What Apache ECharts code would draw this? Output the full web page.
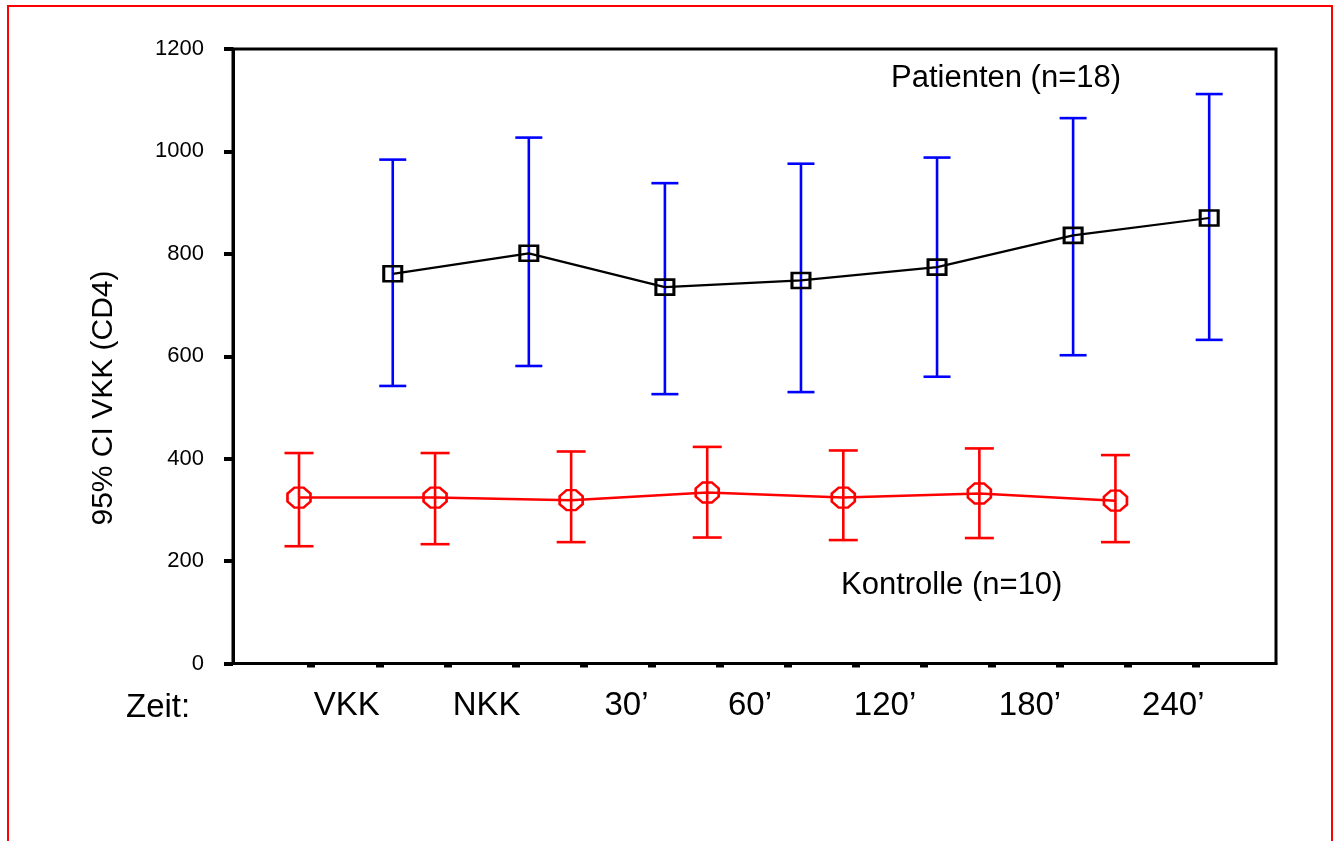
<!DOCTYPE html>
<html>
<head>
<meta charset="utf-8">
<script src="https://cdn.jsdelivr.net/npm/echarts@6/dist/echarts.min.js"></script>
<style>
  html, body { margin: 0; padding: 0; background: #fff; }
  #chart { width: 1338px; height: 841px; }
</style>
</head>
<body>
<div id="chart"></div>
<script>
// Zeitpunkte (Kategorien)
const timeLabels = ['VKK', 'NKK', '30’', '60’', '120’', '180’', '240’']
// Lage der Beschriftungen auf der x-Achse (Achseneinheiten)
const labelPos = [0.351, 1.379, 2.407, 3.314, 4.307, 5.372, 6.425]
const tickPos = [0.09, 0.59, 1.09, 1.59, 2.09, 2.59, 3.09, 3.59, 4.09, 4.59, 5.09, 5.59, 6.09, 6.59]
const yTicks = [0, 200, 400, 600, 800, 1000, 1200]

// Patienten (n=18): Mittelwert und 95%-KI
const patMean = [761, 801, 735, 748, 774, 836, 870]
const patLow = [542, 581, 526, 530, 560, 602, 632]
const patHigh = [984, 1027, 938, 976, 988, 1065, 1112]

// Kontrolle (n=10)
const ctrlMean = [324, 324, 319, 334, 324, 332, 318]
const ctrlLow = [229, 233, 237, 246, 241, 245, 237]
const ctrlHigh = [411, 411, 414, 423, 416, 420, 407]

const ctrlShift = 0
const patShift = 0.689
const font = 'Arial, "Liberation Sans", sans-serif'

const chart = echarts.init(document.getElementById('chart'))

function errorBars(color, capW) {
  return function (params, api) {
    const x = api.value(0)
    const lo = api.coord([x, api.value(1)])
    const hi = api.coord([x, api.value(2)])
    const style = { stroke: color, lineWidth: 2.6 }
    return {
      type: 'group',
      children: [
        { type: 'line', shape: { x1: lo[0], y1: lo[1], x2: hi[0], y2: hi[1] }, style },
        { type: 'line', shape: { x1: lo[0] - capW / 2, y1: lo[1], x2: lo[0] + capW / 2, y2: lo[1] }, style },
        { type: 'line', shape: { x1: hi[0] - capW / 2, y1: hi[1], x2: hi[0] + capW / 2, y2: hi[1] }, style }
      ]
    }
  }
}

const patBars = timeLabels.map((t, i) => [i + patShift, patLow[i], patHigh[i]])
const ctrlBars = timeLabels.map((t, i) => [i + ctrlShift, ctrlLow[i], ctrlHigh[i]])
const patLine = timeLabels.map((t, i) => [i + patShift, patMean[i]])
const ctrlLine = timeLabels.map((t, i) => [i + ctrlShift, ctrlMean[i]])

const option = {
  backgroundColor: '#fff',
  animation: false,
  grid: {
    left: 233,
    top: 49,
    right: 62,
    bottom: 177.5,
    show: true,
    borderColor: '#000',
    borderWidth: 3
  },
  xAxis: {
    type: 'value',
    min: -0.485,
    max: 7.18,
    splitLine: { show: false },
    axisLine: { show: true, onZero: false, lineStyle: { color: '#000', width: 3 } },
    axisTick: {
      show: true,
      length: 4,
      customValues: tickPos,
      lineStyle: { color: '#000', width: 8 }
    },
    axisLabel: {
      customValues: labelPos,
      margin: 26,
      color: '#000',
      fontFamily: font,
      fontSize: 33,
      formatter: v => {
        const i = labelPos.findIndex(p => Math.abs(p - v) < 1e-6)
        return i >= 0 ? timeLabels[i] : ''
      }
    }
  },
  yAxis: {
    type: 'value',
    min: 0,
    max: 1200,
    interval: 200,
    splitLine: { show: false },
    axisLine: { show: true, onZero: false, lineStyle: { color: '#000', width: 3 } },
    axisTick: { show: true, length: 9, lineStyle: { color: '#000', width: 4 } },
    axisLabel: {
      margin: 29,
      color: '#000',
      fontFamily: font,
      fontSize: 22,
      padding: [0, 0, 6, 0],
      formatter: v => (yTicks.includes(v) ? String(v) : '')
    }
  },
  graphic: [
    {
      type: 'rect',
      shape: { x: 8, y: 6, width: 1324, height: 900 },
      style: { fill: 'none', stroke: '#ff0000', lineWidth: 2 },
      silent: true
    },
    {
      type: 'text',
      x: 104,
      y: 398,
      rotation: Math.PI / 2,
      style: {
        text: '95% CI VKK (CD4)',
        font: '30px ' + font,
        fill: '#000',
        align: 'center',
        verticalAlign: 'middle'
      }
    },
    {
      type: 'text',
      x: 891,
      y: 78,
      style: { text: 'Patienten (n=18)', font: '31px ' + font, fill: '#000', verticalAlign: 'middle' }
    },
    {
      type: 'text',
      x: 841,
      y: 585,
      style: { text: 'Kontrolle (n=10)', font: '31px ' + font, fill: '#000', verticalAlign: 'middle' }
    },
    {
      type: 'text',
      x: 126,
      y: 708,
      style: { text: 'Zeit:', font: '33px ' + font, fill: '#000', verticalAlign: 'middle' }
    }
  ],
  series: [
    {
      type: 'custom',
      name: 'Patienten KI',
      renderItem: errorBars('#0000ff', 27),
      encode: { x: 0, y: [1, 2] },
      data: patBars,
      z: 2
    },
    {
      type: 'custom',
      name: 'Kontrolle KI',
      renderItem: errorBars('#ff0000', 29),
      encode: { x: 0, y: [1, 2] },
      data: ctrlBars,
      z: 2
    },
    {
      type: 'line',
      name: 'Patienten',
      data: patLine,
      symbol: 'rect',
      symbolSize: [18, 15],
      showAllSymbol: true,
      lineStyle: { color: '#000', width: 2.2 },
      itemStyle: { color: 'rgba(0,0,0,0)', borderColor: '#000', borderWidth: 2.8 },
      z: 3
    },
    {
      type: 'line',
      name: 'Kontrolle',
      data: ctrlLine,
      symbol: 'path://M3,0 L7,0 L10,3 L10,7 L7,10 L3,10 L0,7 L0,3 Z',
      symbolSize: [23, 20],
      showAllSymbol: true,
      lineStyle: { color: '#ff0000', width: 2.5 },
      itemStyle: { color: 'rgba(0,0,0,0)', borderColor: '#ff0000', borderWidth: 2.5 },
      z: 3
    }
  ]
}

chart.setOption(option)
</script>
</body>
</html>
